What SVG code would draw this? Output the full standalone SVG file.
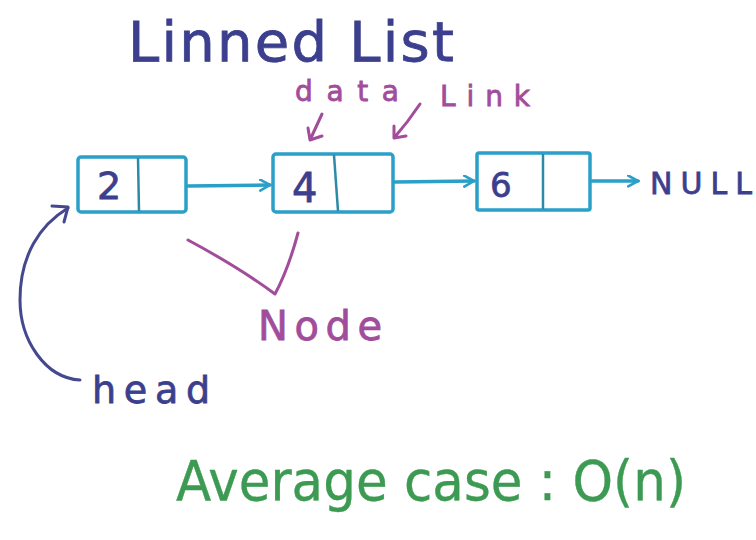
<svg xmlns="http://www.w3.org/2000/svg" width="756" height="540" viewBox="0 0 756 540">
  <style>
    .box { fill: none; stroke: #2aa0c8; stroke-width: 3.5; stroke-linejoin: round; }
    .div { stroke: #2a8aa8; stroke-width: 2.5; }
    .link { fill: none; stroke: #2aa0c8; stroke-width: 3.5; stroke-linecap: round; }
    .ink { font-family: "DejaVu Sans", "Liberation Sans", sans-serif; font-weight: normal; stroke-width: 0.8; }
    .navy { fill: #3c3f8e; stroke: #3c3f8e; }
    .purple { fill: #a24c9c; stroke: #a24c9c; }
    .green { fill: #3c9a52; stroke: #3c9a52; stroke-width: 0.4; }
    .pstroke { fill: none; stroke: #a24c9c; stroke-width: 3; stroke-linecap: round; stroke-linejoin: round; }
    .nstroke { fill: none; stroke: #45488f; stroke-width: 3; stroke-linecap: round; stroke-linejoin: round; }
  </style>
  <defs>
    <marker id="arr" viewBox="0 0 12 12" refX="10" refY="6" markerWidth="13" markerHeight="13" markerUnits="userSpaceOnUse" orient="auto">
      <path d="M1,1 L10,6 L1,11" fill="none" stroke="#2aa0c8" stroke-width="2.4" stroke-linecap="round"/>
    </marker>
  </defs>

  <rect width="756" height="540" fill="#ffffff"/>

  <!-- title -->
  <text class="ink navy" x="128" y="61" font-size="56" textLength="326" lengthAdjust="spacing">Linned List</text>

  <!-- annotations over the second node -->
  <g id="label-data">
    <text class="ink purple" x="295" y="101" font-size="28" textLength="104" lengthAdjust="spacing">data</text>
    <path class="pstroke" d="M322,114 L310,140 M308,128 L310,140 L322,136"/>
  </g>
  <g id="label-link">
    <text class="ink purple" x="440" y="106" font-size="28" textLength="90" lengthAdjust="spacing">Link</text>
    <path class="pstroke" d="M420,104 Q408,122 394,138 M394,126 L394,138 L406,136"/>
  </g>

  <!-- nodes -->
  <g id="node-2">
    <rect class="box" x="78" y="157" width="108" height="55" rx="3"/>
    <line class="div" x1="138" y1="158" x2="139" y2="211"/>
    <text class="ink navy" x="97" y="199" font-size="38">2</text>
  </g>
  <g id="node-4">
    <rect class="box" x="273" y="154" width="120" height="58" rx="3"/>
    <line class="div" x1="334" y1="155" x2="338" y2="211"/>
    <text class="ink navy" x="292" y="202" font-size="40">4</text>
  </g>
  <g id="node-6">
    <rect class="box" x="477" y="153" width="113" height="57" rx="2"/>
    <line class="div" x1="543" y1="154" x2="543" y2="209"/>
    <text class="ink navy" x="490" y="197" font-size="34">6</text>
  </g>
  <g id="null">
    <text class="ink navy" x="650" y="194" font-size="30" textLength="102" lengthAdjust="spacing">NULL</text>
  </g>

  <!-- connectors -->
  <g id="connectors">
    <line class="link" x1="188" y1="186" x2="270" y2="185" marker-end="url(#arr)"/>
    <line class="link" x1="395" y1="182" x2="474" y2="181" marker-end="url(#arr)"/>
    <line class="link" x1="592" y1="181" x2="638" y2="181" marker-end="url(#arr)"/>
  </g>

  <!-- node brace -->
  <g id="label-node">
    <path class="pstroke" d="M188,240 Q240,268 275,294 Q288,270 298,233"/>
    <text class="ink purple" x="258" y="340" font-size="40" textLength="124" lengthAdjust="spacing">Node</text>
  </g>

  <!-- head pointer -->
  <g id="label-head">
    <path class="nstroke" d="M80,380 C45,378 20,340 20,300 C20,255 40,225 68,208"/>
    <path class="nstroke" d="M52,206 L68,207 L64,222"/>
    <text class="ink navy" x="92" y="403" font-size="38" textLength="118" lengthAdjust="spacing">head</text>
  </g>

  <!-- complexity note -->
  <text class="ink green" x="176" y="500" font-size="55" textLength="510" lengthAdjust="spacingAndGlyphs">Average case : O(n)</text>
</svg>
